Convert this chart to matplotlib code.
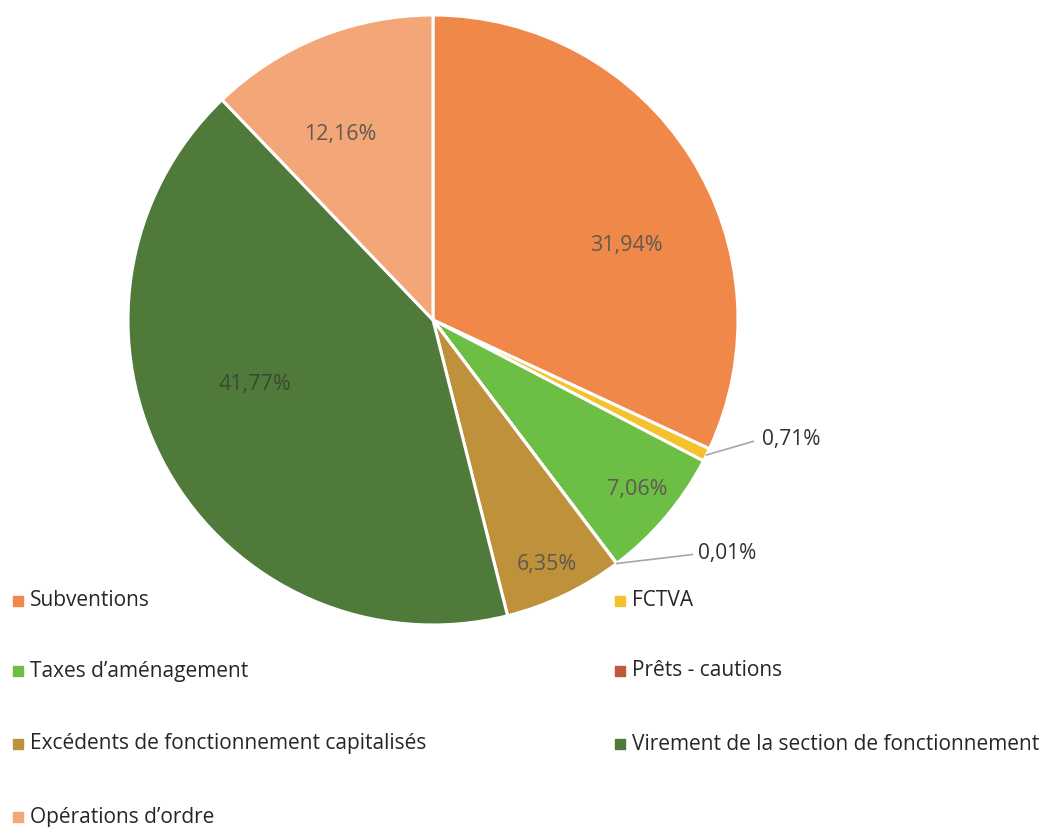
import matplotlib.pyplot as plt
import numpy as np

# données
categories = ['Subventions', 'FCTVA', 'Taxes d\u2019aménagement', 'Prêts - cautions',
              'Excédents de fonctionnement capitalisés',
              'Virement de la section de fonctionnement', 'Opérations d\u2019ordre']
valeurs = [31.94, 0.71, 7.06, 0.01, 6.35, 41.77, 12.16]
etiquettes = ['31,94%', '0,71%', '7,06%', '0,01%', '6,35%', '41,77%', '12,16%']
couleurs = ['#F0884A', '#F5C12C', '#6DBE45', '#C2583A', '#C0913B', '#4F7A3A', '#F3A677']

plt.rcParams['font.family'] = ['Open Sans', 'DejaVu Sans']

fig = plt.figure(figsize=(10.49, 8.27), dpi=100)
ax = fig.add_axes([0, 0, 1, 1])
R = 305.0
cx, cy = 433, 320

wedges, _ = ax.pie(valeurs, colors=couleurs, startangle=90, counterclock=False,
                   radius=1, wedgeprops=dict(edgecolor='white', linewidth=2.2))
ax.set_xlim(-cx / R, (1049 - cx) / R)
ax.set_ylim(-(827 - cy) / R, cy / R)
ax.axis('off')

# étiquettes : (facteur de rayon, décalage d'angle) ; None = extérieur
place = [(0.68, -11.5), None, (0.87, 0.5), None, (0.885, -0.6), (0.62, -9), (0.68, 4.8)]
ext = {1: (1.079, -0.393, 1.05), 3: (0.869, -0.764, 0.85)}
for i, w in enumerate(wedges):
    mid = (w.theta1 + w.theta2) / 2
    if place[i] is not None:
        r, d = place[i]
        ang = np.deg2rad(mid + d)
        col = '#3a4a32' if i == 5 else '#5e5a50'
        ax.text(r * np.cos(ang), r * np.sin(ang), etiquettes[i], ha='center', va='center',
                fontsize=15.5, color=col)
    else:
        ang = np.deg2rad(mid)
        x0, y0 = np.cos(ang), np.sin(ang)
        tx, ty, lx = ext[i]
        ax.plot([x0, lx], [y0, ty - 0.005], color='#a6a6a6', lw=1.2)
        ax.text(tx, ty, etiquettes[i], ha='left', va='center', fontsize=15, color='#303030')

# légende
lignes = [601, 671, 744, 817]
for i, nom in enumerate(categories):
    col_x = 18 if i % 2 == 0 else 620
    py = lignes[i // 2]
    ax.scatter([col_x / 1049], [1 - py / 827], marker='s', s=42, color=couleurs[i],
               transform=fig.transFigure, clip_on=False)
    fig.text((col_x + 12) / 1049, 1 - py / 827, nom, ha='left', va='center',
             fontsize=15, color='#262626')

plt.savefig('out.png', dpi=100)
